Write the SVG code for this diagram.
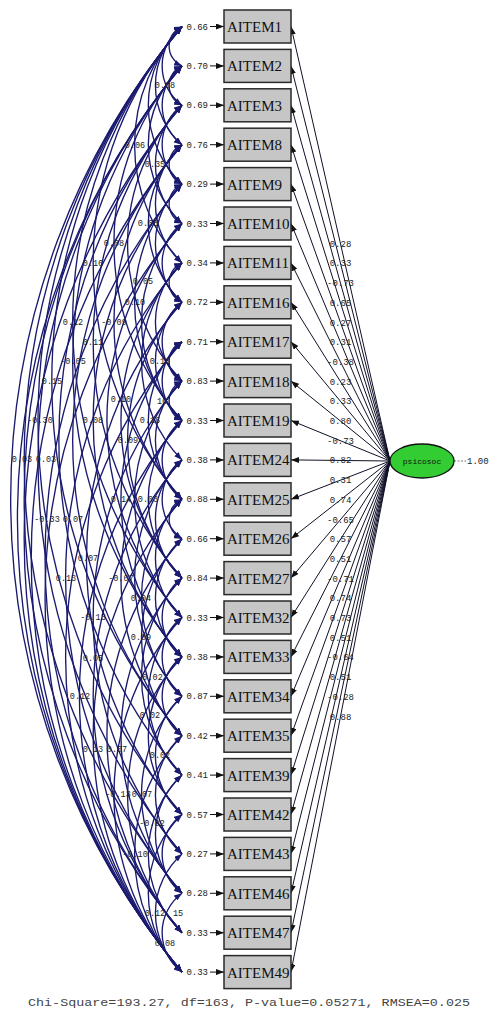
<svg xmlns="http://www.w3.org/2000/svg" width="491" height="1011" viewBox="0 0 491 1011">
<style>
.box{fill:#c6c6c6;stroke:#2a2a2a;stroke-width:1.5}
.bt{font-family:"Liberation Serif",serif;font-size:15px;fill:#111}
.ld{stroke:#101028;stroke-width:1;fill:none}
.er{stroke:#111;stroke-width:1;fill:none}
.cv{stroke:#1a1a70;stroke-width:1.35;fill:none}
.lb{font-family:"Liberation Mono",monospace;font-size:9px;fill:#222}
.cl{font-family:"Liberation Mono",monospace;font-size:8.5px;fill:#222;text-anchor:middle}
.ll{font-family:"Liberation Mono",monospace;font-size:9px;fill:#222;text-anchor:middle}
.el{font-family:"Liberation Mono",monospace;font-size:9px;fill:#222;text-anchor:end}
</style>
<defs>
<marker id="ah" markerUnits="userSpaceOnUse" markerWidth="8" markerHeight="6" refX="8" refY="3" orient="auto"><path d="M0,0 L8,3 L0,6 z" fill="#111"/></marker>
<marker id="ac" markerUnits="userSpaceOnUse" markerWidth="8" markerHeight="6" refX="8" refY="3" orient="auto-start-reverse"><path d="M0,0 L8,3 L0,6 z" fill="#1a1a70"/></marker>
</defs>
<rect width="491" height="1011" fill="#fff"/>
<g id="connectors">
<g id="loadings" class="ld" marker-end="url(#ah)">
<path d="M390 461L291 26.5"/><path d="M390 461L291 65.9"/><path d="M390 461L291 105.3"/><path d="M390 461L291 144.7"/><path d="M390 461L291 184.1"/><path d="M390 461L291 223.5"/><path d="M390 461L291 262.9"/><path d="M390 461L291 302.3"/><path d="M390 461L291 341.7"/><path d="M390 461L291 381.1"/><path d="M390 461L291 420.5"/><path d="M390 461L291 459.9"/><path d="M390 461L291 499.3"/><path d="M390 461L291 538.7"/><path d="M390 461L291 578.1"/><path d="M390 461L291 617.5"/><path d="M390 461L291 656.9"/><path d="M390 461L291 696.3"/><path d="M390 461L291 735.7"/><path d="M390 461L291 775.1"/><path d="M390 461L291 814.5"/><path d="M390 461L291 853.9"/><path d="M390 461L291 893.3"/><path d="M390 461L291 932.7"/><path d="M390 461L291 972.1"/>
</g>
<g id="loading-labels" class="ll">
<text x="340.5" y="246.7">0.28</text><text x="340.5" y="266.4">0.33</text><text x="340.5" y="286.1">-0.73</text><text x="340.5" y="305.8">0.65</text><text x="340.5" y="325.5">0.27</text><text x="340.5" y="345.2">0.31</text><text x="340.5" y="364.9">-0.38</text><text x="340.5" y="384.6">0.23</text><text x="340.5" y="404.3">0.33</text><text x="340.5" y="424">0.80</text><text x="340.5" y="443.7">-0.73</text><text x="340.5" y="463.4">0.82</text><text x="340.5" y="483.1">0.31</text><text x="340.5" y="502.8">0.74</text><text x="340.5" y="522.5">-0.65</text><text x="340.5" y="542.2">0.57</text><text x="340.5" y="561.9">0.51</text><text x="340.5" y="581.6">-0.71</text><text x="340.5" y="601.3">0.74</text><text x="340.5" y="621">0.73</text><text x="340.5" y="640.7">0.51</text><text x="340.5" y="660.4">-0.64</text><text x="340.5" y="680.1">0.51</text><text x="340.5" y="699.8">-0.28</text><text x="340.5" y="719.5">0.88</text>
</g>
<g id="errors" class="er" marker-end="url(#ah)">
<path d="M210 26.5H224"/><path d="M210 65.9H224"/><path d="M210 105.3H224"/><path d="M210 144.7H224"/><path d="M210 184.1H224"/><path d="M210 223.5H224"/><path d="M210 262.9H224"/><path d="M210 302.3H224"/><path d="M210 341.7H224"/><path d="M210 381.1H224"/><path d="M210 420.5H224"/><path d="M210 459.9H224"/><path d="M210 499.3H224"/><path d="M210 538.7H224"/><path d="M210 578.1H224"/><path d="M210 617.5H224"/><path d="M210 656.9H224"/><path d="M210 696.3H224"/><path d="M210 735.7H224"/><path d="M210 775.1H224"/><path d="M210 814.5H224"/><path d="M210 853.9H224"/><path d="M210 893.3H224"/><path d="M210 932.7H224"/><path d="M210 972.1H224"/>
</g>
<g id="error-labels" class="el">
<text x="208" y="29.5">0.66</text><text x="208" y="68.9">0.70</text><text x="208" y="108.3">0.69</text><text x="208" y="147.7">0.76</text><text x="208" y="187.1">0.29</text><text x="208" y="226.5">0.33</text><text x="208" y="265.9">0.34</text><text x="208" y="305.3">0.72</text><text x="208" y="344.7">0.71</text><text x="208" y="384.1">0.83</text><text x="208" y="423.5">0.33</text><text x="208" y="462.9">0.38</text><text x="208" y="502.3">0.88</text><text x="208" y="541.7">0.66</text><text x="208" y="581.1">0.84</text><text x="208" y="620.5">0.33</text><text x="208" y="659.9">0.38</text><text x="208" y="699.3">0.87</text><text x="208" y="738.7">0.42</text><text x="208" y="778.1">0.41</text><text x="208" y="817.5">0.57</text><text x="208" y="856.9">0.27</text><text x="208" y="896.3">0.28</text><text x="208" y="935.7">0.33</text><text x="208" y="975.1">0.33</text>
</g>
<g id="covariances" class="cv" marker-start="url(#ac)" marker-end="url(#ac)">
<path d="M182 26.5A738 738 0 0 0 182 972.1"/>
<path d="M182 26.5A674 674 0 0 0 182 893.3"/>
<path d="M182 26.5A611 611 0 0 0 182 814.5"/>
<path d="M182 65.9A706 706 0 0 0 182 972.1"/>
<path d="M182 65.9A674 674 0 0 0 182 932.7"/>
<path d="M182 105.3A674 674 0 0 0 182 972.1"/>
<path d="M182 26.5A548 548 0 0 0 182 735.7"/>
<path d="M182 144.7A643 643 0 0 0 182 972.1"/>
<path d="M182 65.9A611 611 0 0 0 182 853.9"/>
<path d="M182 184.1A580 580 0 0 0 182 932.7"/>
<path d="M182 105.3A517 517 0 0 0 182 775.1"/>
<path d="M182 223.5A580 580 0 0 0 182 972.1"/>
<path d="M182 26.5A454 454 0 0 0 182 617.5"/>
<path d="M182 262.9A485 485 0 0 0 182 893.3"/>
<path d="M182 144.7A454 454 0 0 0 182 735.7"/>
<path d="M182 341.7A485 485 0 0 0 182 972.1"/>
<path d="M182 65.9A454 454 0 0 0 182 656.9"/>
<path d="M182 302.3A391 391 0 0 0 182 814.5"/>
<path d="M182 420.5A422 422 0 0 0 182 972.1"/>
<path d="M182 105.3A359 359 0 0 0 182 578.1"/>
<path d="M182 381.1A359 359 0 0 0 182 853.9"/>
<path d="M182 184.1A359 359 0 0 0 182 656.9"/>
<path d="M182 459.9A359 359 0 0 0 182 932.7"/>
<path d="M182 26.5A359 359 0 0 0 182 499.3"/>
<path d="M182 499.3A359 359 0 0 0 182 972.1"/>
<path d="M182 223.5A296 296 0 0 0 182 617.5"/>
<path d="M182 538.7A296 296 0 0 0 182 932.7"/>
<path d="M182 144.7A265 265 0 0 0 182 499.3"/>
<path d="M182 262.9A234 234 0 0 0 182 578.1"/>
<path d="M182 578.1A234 234 0 0 0 182 893.3"/>
<path d="M182 341.7A234 234 0 0 0 182 656.9"/>
<path d="M182 617.5A265 265 0 0 0 182 972.1"/>
<path d="M182 65.9A265 265 0 0 0 182 420.5"/>
<path d="M182 420.5A234 234 0 0 0 182 735.7"/>
<path d="M182 302.3A202 202 0 0 0 182 578.1"/>
<path d="M182 656.9A202 202 0 0 0 182 932.7"/>
<path d="M182 105.3A202 202 0 0 0 182 381.1"/>
<path d="M182 459.9A171 171 0 0 0 182 696.3"/>
<path d="M182 184.1A171 171 0 0 0 182 420.5"/>
<path d="M182 696.3A140 140 0 0 0 182 893.3"/>
<path d="M182 381.1A171 171 0 0 0 182 617.5"/>
<path d="M182 26.5A171 171 0 0 0 182 262.9"/>
<path d="M182 735.7A171 171 0 0 0 182 972.1"/>
<path d="M182 499.3A140 140 0 0 0 182 696.3"/>
<path d="M182 223.5A140 140 0 0 0 182 420.5"/>
<path d="M182 262.9A140 140 0 0 0 182 459.9"/>
<path d="M182 538.7A140 140 0 0 0 182 735.7"/>
<path d="M182 144.7A109 109 0 0 0 182 302.3"/>
<path d="M182 775.1A109 109 0 0 0 182 932.7"/>
<path d="M182 341.7A109 109 0 0 0 182 499.3"/>
<path d="M182 578.1A140 140 0 0 0 182 775.1"/>
<path d="M182 814.5A109 109 0 0 0 182 972.1"/>
<path d="M182 65.9A109 109 0 0 0 182 223.5"/>
<path d="M182 420.5A109 109 0 0 0 182 578.1"/>
<path d="M182 617.5A109 109 0 0 0 182 775.1"/>
<path d="M182 26.5A109 109 0 0 0 182 184.1"/>
<path d="M182 302.3A79 79 0 0 0 182 420.5"/>
<path d="M182 656.9A109 109 0 0 0 182 814.5"/>
<path d="M182 105.3A79 79 0 0 0 182 223.5"/>
<path d="M182 459.9A79 79 0 0 0 182 578.1"/>
<path d="M182 184.1A79 79 0 0 0 182 302.3"/>
<path d="M182 696.3A79 79 0 0 0 182 814.5"/>
<path d="M182 381.1A79 79 0 0 0 182 499.3"/>
<path d="M182 853.9A79 79 0 0 0 182 972.1"/>
<path d="M182 26.5A79 79 0 0 0 182 144.7"/>
<path d="M182 499.3A79 79 0 0 0 182 617.5"/>
<path d="M182 262.9A79 79 0 0 0 182 381.1"/>
<path d="M182 735.7A79 79 0 0 0 182 853.9"/>
<path d="M182 144.7A79 79 0 0 0 182 262.9"/>
<path d="M182 538.7A79 79 0 0 0 182 656.9"/>
<path d="M182 65.9A49 49 0 0 0 182 144.7"/>
<path d="M182 341.7A49 49 0 0 0 182 420.5"/>
<path d="M182 775.1A79 79 0 0 0 182 893.3"/>
<path d="M182 578.1A49 49 0 0 0 182 656.9"/>
<path d="M182 223.5A49 49 0 0 0 182 302.3"/>
<path d="M182 814.5A49 49 0 0 0 182 893.3"/>
<path d="M182 420.5A49 49 0 0 0 182 499.3"/>
<path d="M182 105.3A49 49 0 0 0 182 184.1"/>
<path d="M182 893.3A49 49 0 0 0 182 972.1"/>
<path d="M182 617.5A49 49 0 0 0 182 696.3"/>
<path d="M182 26.5A49 49 0 0 0 182 105.3"/>
<path d="M182 656.9A49 49 0 0 0 182 735.7"/>
<path d="M182 302.3A49 49 0 0 0 182 381.1"/>
<path d="M182 459.9A49 49 0 0 0 182 538.7"/>
<path d="M182 26.5A21.5 21.5 0 0 0 182 65.9"/>
<path d="M182 65.9A21.5 21.5 0 0 0 182 105.3"/>
<path d="M182 144.7A21.5 21.5 0 0 0 182 184.1"/>
<path d="M182 184.1A21.5 21.5 0 0 0 182 223.5"/>
<path d="M182 262.9A21.5 21.5 0 0 0 182 302.3"/>
<path d="M182 341.7A21.5 21.5 0 0 0 182 381.1"/>
<path d="M182 381.1A21.5 21.5 0 0 0 182 420.5"/>
<path d="M182 499.3A21.5 21.5 0 0 0 182 538.7"/>
</g>
<g id="covariance-labels" class="cl">
<text x="22" y="462">0.03</text><text x="46" y="462">0.03</text>
<text x="40" y="423">-0.30</text><text x="52" y="384">0.15</text>
<text x="47" y="522">-0.33</text><text x="73" y="522">0.07</text>
<text x="73" y="325">0.12</text><text x="66" y="581">0.13</text>
<text x="73" y="364">-0.05</text><text x="88" y="561">0.07</text>
<text x="80" y="699">0.12</text><text x="93" y="345">0.11</text>
<text x="93" y="620">-0.13</text><text x="93" y="423">0.08</text>
<text x="93" y="661">0.05</text><text x="93" y="266">0.16</text>
<text x="93" y="752">0.13</text><text x="117" y="752">0.07</text>
<text x="114" y="325">-0.09</text><text x="121" y="402">0.10</text>
<text x="121" y="502">0.14</text><text x="114" y="246">0.08</text>
<text x="121" y="581">-0.07</text><text x="128" y="443">0.09</text>
<text x="118" y="797">-0.13</text><text x="142" y="797">0.07</text>
<text x="135" y="305">0.10</text><text x="135" y="148">0.06</text>
<text x="135" y="857">-0.10</text><text x="141" y="601">0.04</text>
<text x="143" y="284">0.05</text><text x="141" y="640">0.09</text>
<text x="148" y="226">0.08</text><text x="150" y="423">0.16</text>
<text x="150" y="680">-0.02</text><text x="152" y="826">-0.02</text>
<text x="148" y="502">0.03</text><text x="150" y="718">0.02</text>
<text x="160" y="364">0.16</text><text x="155" y="167">0.35</text>
<text x="160" y="758">0.02</text><text x="155" y="916">0.12</text>
<text x="178" y="916">15</text><text x="165" y="88">0.08</text>
<text x="162" y="404">16</text><text x="165" y="946">0.08</text>
</g>
<path id="factor-variance" d="M454 461H466" stroke="#777" stroke-width="1" stroke-dasharray="2 1.5" fill="none"/>
<text x="467" y="464" class="lb">1.00</text>
</g>
<g id="node-factor">
<ellipse cx="422" cy="461" rx="32" ry="17" fill="#33cc33" stroke="#111" stroke-width="1.3"/>
<text x="422" y="464" font-family="Liberation Mono, monospace" font-size="8" fill="#111" text-anchor="middle">psicosoc</text>
</g>
<g id="node-AITEM1"><rect class="box" x="224" y="10" width="67" height="33"/><text class="bt" x="227" y="32">AITEM1</text></g>
<g id="node-AITEM2"><rect class="box" x="224" y="49.4" width="67" height="33"/><text class="bt" x="227" y="71.4">AITEM2</text></g>
<g id="node-AITEM3"><rect class="box" x="224" y="88.8" width="67" height="33"/><text class="bt" x="227" y="110.8">AITEM3</text></g>
<g id="node-AITEM8"><rect class="box" x="224" y="128.2" width="67" height="33"/><text class="bt" x="227" y="150.2">AITEM8</text></g>
<g id="node-AITEM9"><rect class="box" x="224" y="167.6" width="67" height="33"/><text class="bt" x="227" y="189.6">AITEM9</text></g>
<g id="node-AITEM10"><rect class="box" x="224" y="207" width="67" height="33"/><text class="bt" x="227" y="229">AITEM10</text></g>
<g id="node-AITEM11"><rect class="box" x="224" y="246.4" width="67" height="33"/><text class="bt" x="227" y="268.4">AITEM11</text></g>
<g id="node-AITEM16"><rect class="box" x="224" y="285.8" width="67" height="33"/><text class="bt" x="227" y="307.8">AITEM16</text></g>
<g id="node-AITEM17"><rect class="box" x="224" y="325.2" width="67" height="33"/><text class="bt" x="227" y="347.2">AITEM17</text></g>
<g id="node-AITEM18"><rect class="box" x="224" y="364.6" width="67" height="33"/><text class="bt" x="227" y="386.6">AITEM18</text></g>
<g id="node-AITEM19"><rect class="box" x="224" y="404" width="67" height="33"/><text class="bt" x="227" y="426">AITEM19</text></g>
<g id="node-AITEM24"><rect class="box" x="224" y="443.4" width="67" height="33"/><text class="bt" x="227" y="465.4">AITEM24</text></g>
<g id="node-AITEM25"><rect class="box" x="224" y="482.8" width="67" height="33"/><text class="bt" x="227" y="504.8">AITEM25</text></g>
<g id="node-AITEM26"><rect class="box" x="224" y="522.2" width="67" height="33"/><text class="bt" x="227" y="544.2">AITEM26</text></g>
<g id="node-AITEM27"><rect class="box" x="224" y="561.6" width="67" height="33"/><text class="bt" x="227" y="583.6">AITEM27</text></g>
<g id="node-AITEM32"><rect class="box" x="224" y="601" width="67" height="33"/><text class="bt" x="227" y="623">AITEM32</text></g>
<g id="node-AITEM33"><rect class="box" x="224" y="640.4" width="67" height="33"/><text class="bt" x="227" y="662.4">AITEM33</text></g>
<g id="node-AITEM34"><rect class="box" x="224" y="679.8" width="67" height="33"/><text class="bt" x="227" y="701.8">AITEM34</text></g>
<g id="node-AITEM35"><rect class="box" x="224" y="719.2" width="67" height="33"/><text class="bt" x="227" y="741.2">AITEM35</text></g>
<g id="node-AITEM39"><rect class="box" x="224" y="758.6" width="67" height="33"/><text class="bt" x="227" y="780.6">AITEM39</text></g>
<g id="node-AITEM42"><rect class="box" x="224" y="798" width="67" height="33"/><text class="bt" x="227" y="820">AITEM42</text></g>
<g id="node-AITEM43"><rect class="box" x="224" y="837.4" width="67" height="33"/><text class="bt" x="227" y="859.4">AITEM43</text></g>
<g id="node-AITEM46"><rect class="box" x="224" y="876.8" width="67" height="33"/><text class="bt" x="227" y="898.8">AITEM46</text></g>
<g id="node-AITEM47"><rect class="box" x="224" y="916.2" width="67" height="33"/><text class="bt" x="227" y="938.2">AITEM47</text></g>
<g id="node-AITEM49"><rect class="box" x="224" y="955.6" width="67" height="33"/><text class="bt" x="227" y="977.6">AITEM49</text></g>
<text x="249" y="1006" font-family="Liberation Mono, monospace" font-size="11.5" fill="#444" text-anchor="middle" textLength="442" lengthAdjust="spacingAndGlyphs">Chi-Square=193.27, df=163, P-value=0.05271, RMSEA=0.025</text>
</svg>
